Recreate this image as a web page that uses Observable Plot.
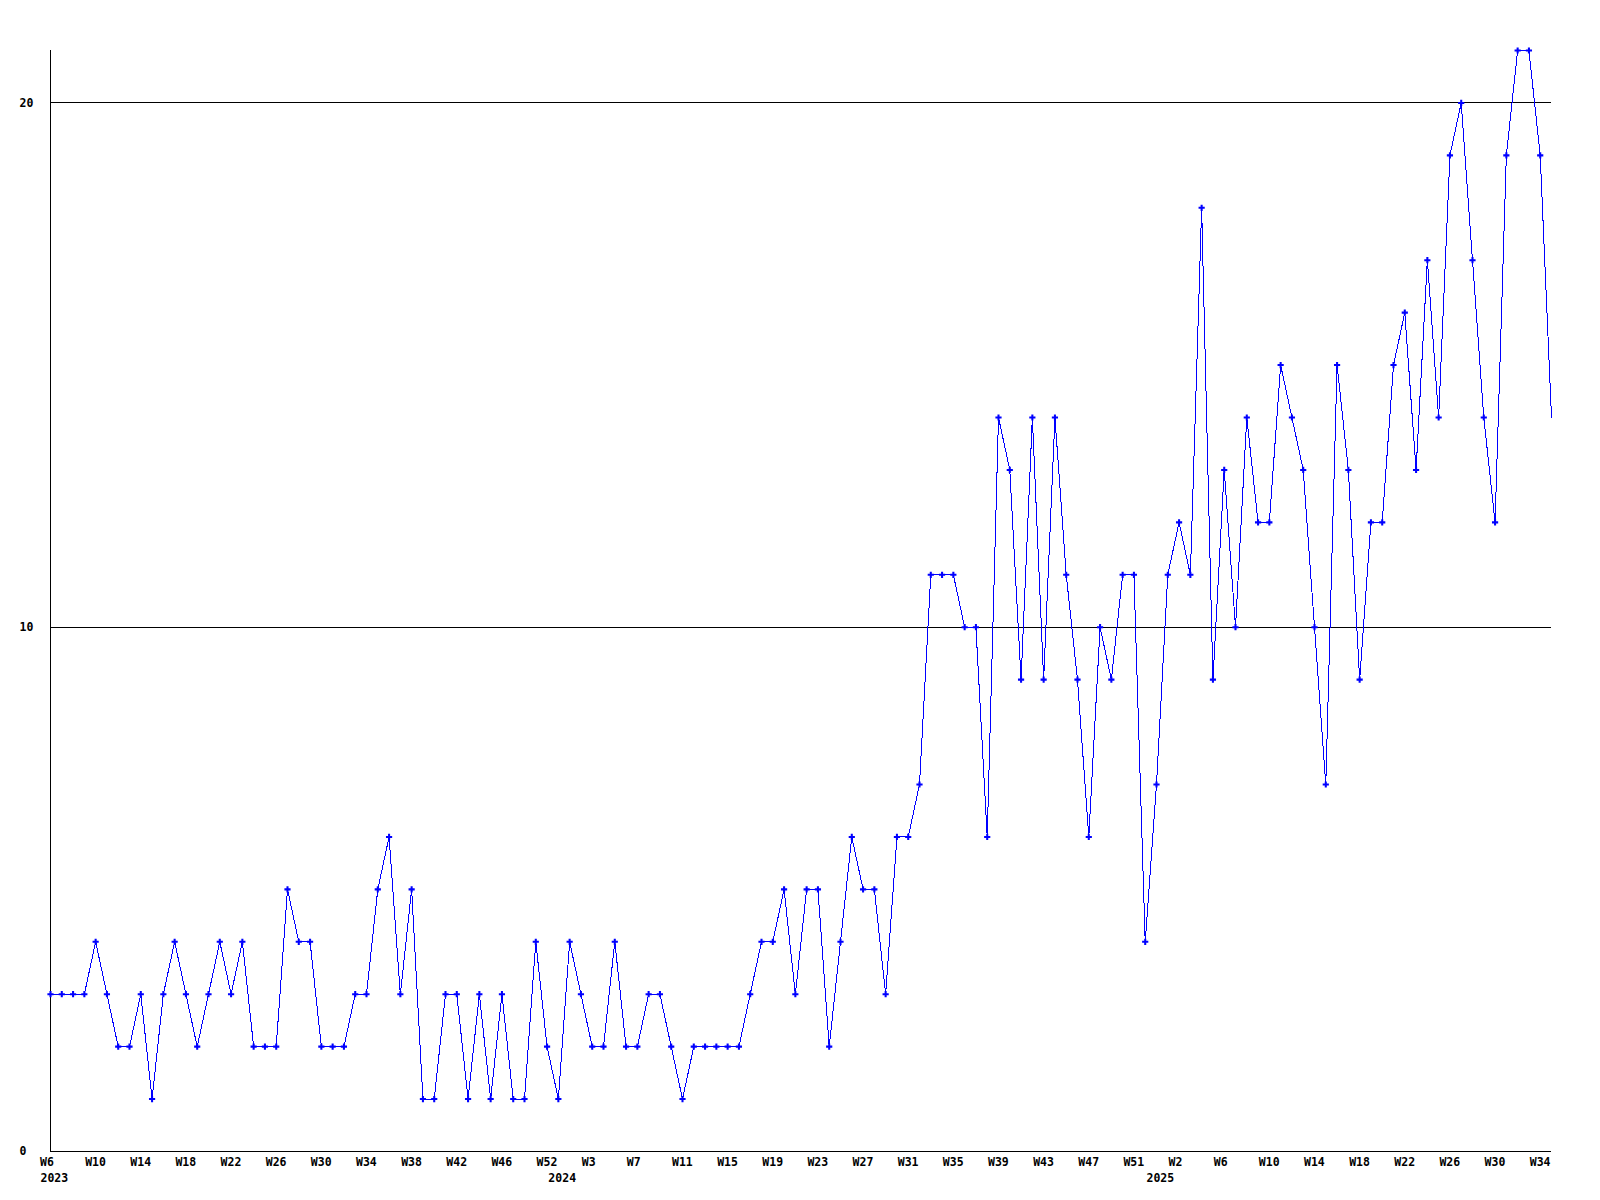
<!DOCTYPE html>
<html><head><meta charset="utf-8">
<script src="https://cdn.jsdelivr.net/npm/d3@7"></script>
<script src="https://cdn.jsdelivr.net/npm/@observablehq/plot@0.6"></script>
<style>body{margin:0;background:#fff}</style>
</head><body><div id="chart"></div>
<script>
// weekly values, 2023 W6 .. 2025 W35
const values = [
  3,3,3,3,4,3,2,2,3,1,
  3,4,3,2,3,4,3,4,2,2,
  2,5,4,4,2,2,2,3,3,5,
  6,3,5,1,1,3,3,1,3,1,
  3,1,1,4,2,1,4,3,2,2,
  4,2,2,3,3,2,1,2,2,2,
  2,2,3,4,4,5,3,5,5,2,
  4,6,5,5,3,6,6,7,11,11,
  11,10,10,6,14,13,9,14,9,14,
  11,9,6,10,9,11,11,4,7,11,
  12,11,18,9,13,10,14,12,12,15,
  14,13,10,7,15,13,9,12,12,15,
  16,13,17,14,19,20,17,14,12,19,
  21,21,19,14
];
const weekTicks = [0,4,8,12,16,20,24,28,32,36,40,44,48,52,56,60,64,68,72,76,80,84,88,92,96,100,104,108,112,116,120,124,128,132];
const weekLabels = ["W6","W10","W14","W18","W22","W26","W30","W34","W38","W42","W46","W52",
  "W3","W7","W11","W15","W19","W23","W27","W31","W35","W39","W43","W47","W51",
  "W2","W6","W10","W14","W18","W22","W26","W30","W34"];
const yearTicks = [0,45,98];
const yearLabels = ["2023","2024","2025"];
const yTicks = [0,10,20];
const gridLines = [10,20];
const yMax = 21;

const data = values.map((v,i)=>({i, v}));
const weekMap = new Map(weekTicks.map((t,k)=>[t, weekLabels[k]]));
const yearMap = new Map(yearTicks.map((t,k)=>[t, yearLabels[k]]));

const chart = Plot.plot({
  width:1600, height:1200,
  marginLeft:50, marginRight:49, marginTop:50, marginBottom:49,
  style:{fontFamily:"'DejaVu Sans Mono', monospace", fontSize:"11.5px", fontWeight:"bold", background:"#fff", color:"#000"},
  x:{domain:[0, values.length-1], axis:null, label:null},
  y:{domain:[0, yMax], axis:null, label:null},
  marks:[
    Plot.ruleY(gridLines, {stroke:"#000", strokeWidth:1, shapeRendering:"crispEdges"}),
    Plot.ruleY([0], {stroke:"#000", strokeWidth:1, shapeRendering:"crispEdges"}),
    Plot.ruleX([0], {stroke:"#000", strokeWidth:1, shapeRendering:"crispEdges"}),
    Plot.line(data, {x:"i", y:"v", stroke:"#0000ff", strokeWidth:1, shapeRendering:"crispEdges"}),
    Plot.dot(data, {filter:(d)=> d.i < values.length-1, x:"i", y:"v", symbol:"cross", r:2.6, fill:"#0000ff", stroke:null}),
    Plot.axisY({ticks:yTicks, tickSize:0, tickPadding:31, textAnchor:"start", tickFormat:d=>String(d), label:null}),
    Plot.axisX({ticks:weekTicks, tickSize:0, tickPadding:6, textAnchor:"start", dx:-10.5, tickFormat:d=>weekMap.get(d), label:null}),
    Plot.axisX({ticks:yearTicks, tickSize:0, tickPadding:22, textAnchor:"start", dx:-10, tickFormat:d=>yearMap.get(d), label:null})
  ]
});
document.getElementById("chart").appendChild(chart);
</script>
</body></html>
